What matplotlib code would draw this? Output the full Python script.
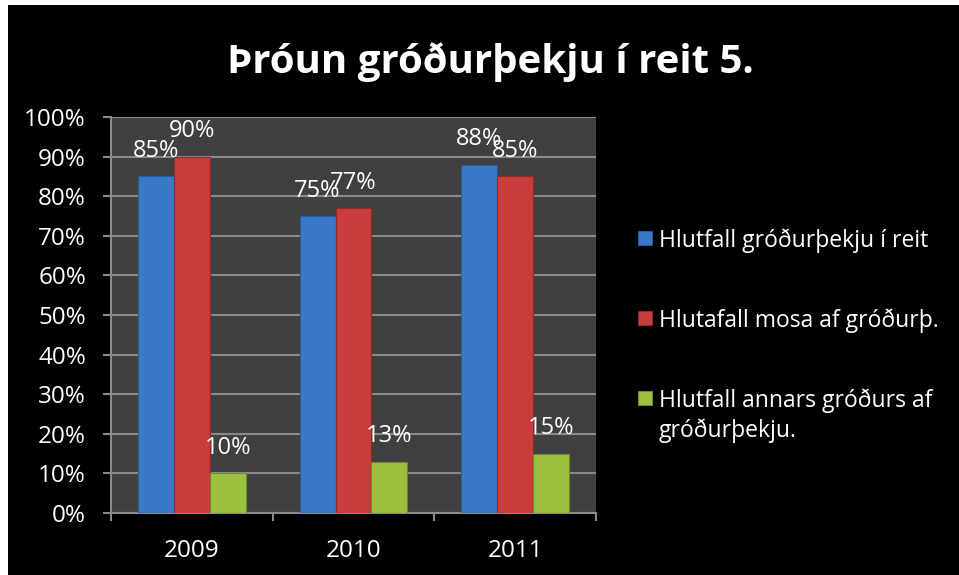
import matplotlib
matplotlib.use("Agg")
import matplotlib.pyplot as plt
from matplotlib.patches import Rectangle
from matplotlib.ticker import FixedLocator, PercentFormatter
import numpy as np

years = ["2009", "2010", "2011"]
series_names = ["Hlutfall gróðurþekju í reit",
                "Hlutafall mosa af gróðurþ.",
                "Hlutfall annars gróðurs af\ngróðurþekju."]
cover = [85, 75, 88]
moss = [90, 77, 85]
other = [10, 13, 15]
yticks = [0, 10, 20, 30, 40, 50, 60, 70, 80, 90, 100]
title = "Þróun gróðurþekju í reit 5."

colors = ["#3a78c8", "#c83c3c", "#9bc03e"]
edge = ["#2a5a9a", "#8e2a2a", "#6f8a2c"]

plt.rcParams['font.family'] = ['Open Sans', 'DejaVu Sans']

W, H = 959, 575
fig = plt.figure(figsize=(W/100, H/100), dpi=100)
fig.patch.set_facecolor("white")
fig.patches.append(Rectangle((8/W, 0), 1 - 8/W, 1 - 5/H, transform=fig.transFigure,
                             facecolor="black", edgecolor="none", zorder=-10))

ax = fig.add_axes([111/W, 1 - 513/H, (596-111)/W, (513-117)/H])
ax.set_facecolor("#404040")

x = np.arange(len(years))
bw = 0.222
data = [cover, moss, other]
for i, (vals, c, ec) in enumerate(zip(data, colors, edge)):
    bars = ax.bar(x + (i - 1) * bw, vals, width=bw, color=c, edgecolor=ec,
                  linewidth=0.8, zorder=3, label=series_names[i])
    for b, v in zip(bars, vals):
        ax.annotate(f"{v}%", (b.get_x() + b.get_width()/2, v),
                    xytext=(0, 14), textcoords="offset points",
                    ha="center", va="baseline", color="white", fontsize=17, zorder=5,
                    annotation_clip=False)

ax.set_xlim(-0.5, 2.5)
ax.set_ylim(0, 100)
ax.yaxis.set_major_locator(FixedLocator(yticks))
ax.yaxis.set_major_formatter(PercentFormatter(decimals=0))
ax.set_xticks(x)
ax.set_xticklabels(years)
ax.xaxis.set_minor_locator(FixedLocator([-0.5, 0.5, 1.5, 2.5]))
ax.tick_params(axis="x", which="major", length=0, pad=19, labelsize=17.5, colors="white")
ax.tick_params(axis="x", which="minor", length=6, width=1.5, color="#8a8a8a", direction="out")
ax.tick_params(axis="y", which="major", length=6, width=1.5, color="#8a8a8a",
               pad=12, labelsize=17.5, labelcolor="white", direction="out")
ax.grid(axis="y", color="#8a8a8a", linewidth=1.5, zorder=1)
ax.set_axisbelow(True)
for s in ["top", "right"]:
    ax.spines[s].set_visible(False)
for s in ["left", "bottom"]:
    ax.spines[s].set_color("#8a8a8a")
    ax.spines[s].set_linewidth(1.5)

fig.text(490/W, 1 - 62/H, title, ha="center", va="center", color="white",
         fontsize=29, fontweight="bold")

# legend (manual, handles aligned with first text line)
leg_y = [238, 318, 398]
for name, c, ec, yy in zip(series_names, colors, edge, leg_y):
    fig.patches.append(Rectangle((638/W, 1 - (yy + 7)/H), 14/W, 14/H,
                                 transform=fig.transFigure, facecolor=c,
                                 edgecolor=ec, linewidth=0.8))
    fig.text(659/W, 1 - yy/H, name.split("\n")[0], ha="left", va="center_baseline",
             color="white", fontsize=16.5)
    if "\n" in name:
        fig.text(659/W, 1 - (yy + 30)/H, name.split("\n")[1], ha="left",
                 va="center_baseline", color="white", fontsize=16.5)

fig.savefig("out.png", dpi=100, facecolor=fig.get_facecolor())
